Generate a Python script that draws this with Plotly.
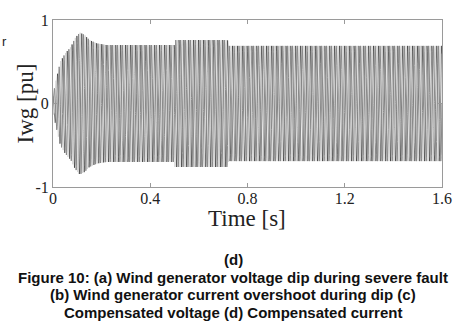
import numpy as np
import plotly.graph_objects as go

# Envelope of the three-phase current (time [s], amplitude [pu])
env_t = [0.0, 0.01, 0.03, 0.05, 0.074, 0.09, 0.11, 0.13, 0.15, 0.18, 0.22, 0.30, 0.499, 0.501, 0.718, 0.722, 1.6]
env_a = [0.10, 0.25, 0.50, 0.60, 0.68, 0.78, 0.85, 0.82, 0.76, 0.72, 0.70, 0.70, 0.70, 0.76, 0.76, 0.69, 0.69]
freq_hz = 50.0
phase_deg = [120, -120, 0]
phase_colors = ["#222222", "#cfcfcf", "#8a8a8a"]
phase_widths = [0.6, 0.8, 1.0]
x_ticks = [0, 0.4, 0.8, 1.2, 1.6]
y_ticks = [-1, 0, 1]

t = np.linspace(0, 1.6, 16001)
amp = np.interp(t, env_t, env_a)

fig = go.Figure()
for ph, col, lw in zip(phase_deg, phase_colors, phase_widths):
    y = amp * np.sin(2 * np.pi * freq_hz * t + np.deg2rad(ph))
    fig.add_trace(go.Scatter(x=t, y=y, mode="lines", line=dict(color=col, width=lw),
                             hoverinfo="skip", showlegend=False))

axis_common = dict(showgrid=False, zeroline=False, showline=True, linecolor="#9a9a9a",
                   linewidth=1, mirror="ticks", ticks="inside", ticklen=4, tickcolor="#9a9a9a",
                   tickfont=dict(family="Liberation Serif", size=16, color="#222"))
fig.update_xaxes(range=[0, 1.6], tickvals=x_ticks, ticktext=["0", "0.4", "0.8", "1.2", "1.6"],
                 ticklabelstandoff=-3, **axis_common)
fig.update_yaxes(range=[-1, 1], tickvals=y_ticks, ticktext=["-1", "0", "1"], **axis_common)

W, H = 467, 334
L, R, T, B = 53, 25, 15, 147
PW, PH = W - L - R, H - T - B


def px(xp, yp, **kw):
    """annotation centred at pixel position (xp, yp) from the top-left corner"""
    return dict(x=(xp - L) / PW, y=(H - B - yp) / PH, xref="paper", yref="paper",
                xanchor="center", yanchor="middle", showarrow=False, **kw)


cap_font = dict(family="Liberation Sans", size=15, color="#111")
fig.update_layout(
    width=W, height=H,
    margin=dict(l=L, r=R, t=T, b=B),
    paper_bgcolor="white", plot_bgcolor="white",
    annotations=[
        px(247, 219, text="Time [s]", font=dict(family="Liberation Serif", size=23, color="#222")),
        px(25, 101, text="Iwg [pu]", textangle=-90,
           font=dict(family="Liberation Serif", size=23, color="#222")),
        px(4, 37, text="r", font=dict(family="Liberation Sans", size=13, color="#222")),
        px(233, 262, text="<b>(d)</b>", font=cap_font),
        px(233, 280, text="<b>Figure 10: (a) Wind generator voltage dip during severe fault</b>", font=cap_font),
        px(233, 298, text="<b>(b) Wind generator current overshoot during dip (c)</b>", font=cap_font),
        px(233, 316, text="<b>Compensated voltage (d) Compensated current</b>", font=cap_font),
    ],
)

fig.write_html("out.html", config={"displayModeBar": False},
               post_script="document.body.style.margin='0';document.body.style.padding='0';")
